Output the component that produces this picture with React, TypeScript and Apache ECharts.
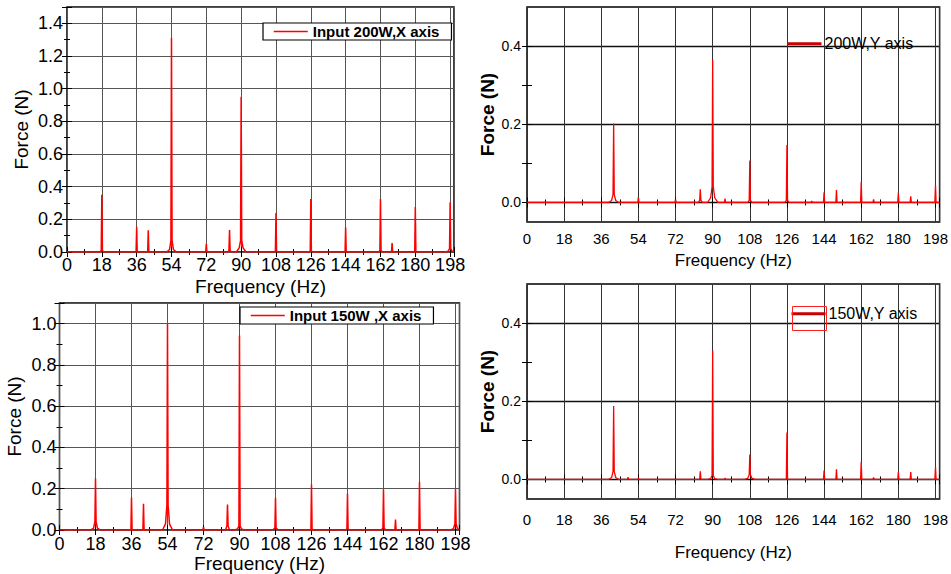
import React, { useEffect, useRef } from "react";
import * as echarts from "echarts";

// ---- data ----
const FREQ_MIN = 0;
const FREQ_MAX = 200;
const FREQ_STEP = 18;

// Panel 1: Input 200W, X axis  (peak frequency, peak force, force at the foot, force on the skirt)
const p1Freq = [18, 36, 42, 54, 72, 84, 90, 108, 126, 144, 162, 168, 180, 198];
const p1Force = [0.35, 0.155, 0.133, 1.31, 0.05, 0.135, 0.95, 0.238, 0.325, 0.15, 0.325, 0.055, 0.275, 0.305];
const p1Foot = [0.01, 0, 0, 0.07, 0, 0.01, 0.07, 0.005, 0.005, 0, 0.01, 0, 0, 0.02];
const p1Skirt = [0, 0, 0, 0.015, 0, 0, 0.025, 0, 0, 0, 0, 0, 0, 0.005];

// Panel 2: 200W, Y axis
const p2Freq = [42, 54, 72, 84, 90, 96, 108, 126, 138, 144, 150, 162, 168, 180, 186, 198];
const p2Force = [0.202, 0.014, 0.008, 0.034, 0.365, 0.01, 0.107, 0.147, 0.004, 0.026, 0.032, 0.053, 0.008, 0.025, 0.016, 0.044];
const p2Foot = [0.02, 0, 0, 0.005, 0.04, 0, 0.005, 0.005, 0, 0, 0, 0, 0, 0, 0, 0];
const p2Skirt = [0.005, 0, 0, 0, 0.012, 0, 0, 0, 0, 0, 0, 0, 0, 0, 0, 0];

// Panel 3: Input 150W, X axis
const p3Freq = [18, 36, 42, 54, 72, 84, 90, 108, 126, 144, 162, 168, 180, 198];
const p3Force = [0.249, 0.157, 0.127, 1.0, 0.015, 0.124, 0.942, 0.156, 0.22, 0.175, 0.196, 0.051, 0.233, 0.197];
const p3Foot = [0.04, 0, 0, 0.12, 0, 0.02, 0.02, 0.01, 0, 0.005, 0.01, 0, 0, 0.03];
const p3Skirt = [0.008, 0, 0, 0.03, 0, 0, 0.005, 0.003, 0, 0, 0, 0, 0, 0.006];

// Panel 4: 150W, Y axis
const p4Freq = [42, 49, 54, 84, 90, 96, 108, 126, 144, 150, 162, 168, 180, 186, 198];
const p4Force = [0.188, 0.006, 0.004, 0.021, 0.33, 0.004, 0.064, 0.12, 0.023, 0.026, 0.045, 0.005, 0.019, 0.019, 0.032];
const p4Foot = [0.02, 0, 0, 0, 0.01, 0, 0.012, 0, 0, 0, 0, 0, 0, 0, 0];
const p4Skirt = [0.005, 0, 0, 0, 0.002, 0, 0.003, 0, 0, 0, 0, 0, 0, 0, 0];

const smallYLabels = [0, 0.2, 0.4];
const smallYTicks = [0, 0.1, 0.2, 0.3, 0.4];

function spectrum(freqs: number[], forces: number[], feet: number[], skirts: number[]) {
  const pts: number[][] = [[FREQ_MIN, 0]];
  freqs.forEach((f, i) => {
    pts.push(
      [f - 2.5, 0],
      [f - 1, skirts[i]],
      [f - 0.3, feet[i]],
      [f, forces[i]],
      [f + 0.3, feet[i]],
      [Math.min(f + 1, FREQ_MAX), skirts[i]],
      [Math.min(f + 2.5, FREQ_MAX), 0]
    );
  });
  pts.push([FREQ_MAX, 0]);
  return pts;
}

const WIDE = "'Liberation Sans', Arial, sans-serif";

type PanelCfg = {
  name: string;
  freqs: number[];
  forces: number[];
  feet: number[];
  skirts: number[];
  grid: { left: number; top: number; width: number; height: number };
  yMin: number;
  yMax: number;
  small: boolean;
  xNameGap: number;
  yNameGap: number;
  xLabelMargin: number;
  yLabelMargin: number;
  legend: any;
};

const panels: PanelCfg[] = [
  {
    name: "Input 200W,X axis",
    freqs: p1Freq, forces: p1Force, feet: p1Foot, skirts: p1Skirt,
    grid: { left: 67, top: 7, width: 387, height: 245 },
    yMin: 0, yMax: 1.5, small: false,
    xNameGap: 25, yNameGap: 36, xLabelMargin: 4, yLabelMargin: 4,
    legend: { left: 263, top: 23 },
  },
  {
    name: "200W,Y axis",
    freqs: p2Freq, forces: p2Force, feet: p2Foot, skirts: p2Skirt,
    grid: { left: 527, top: 7, width: 415, height: 215 },
    yMin: -0.05, yMax: 0.5, small: true,
    xNameGap: 30, yNameGap: 30, xLabelMargin: 9, yLabelMargin: 6,
    legend: { left: 786, top: 35 },
  },
  {
    name: "Input 150W ,X axis",
    freqs: p3Freq, forces: p3Force, feet: p3Foot, skirts: p3Skirt,
    grid: { left: 59.5, top: 303, width: 400, height: 229 },
    yMin: 0, yMax: 1.1, small: false,
    xNameGap: 24, yNameGap: 36, xLabelMargin: 5, yLabelMargin: 3,
    legend: { left: 240, top: 307 },
  },
  {
    name: "150W,Y axis",
    freqs: p4Freq, forces: p4Force, feet: p4Foot, skirts: p4Skirt,
    grid: { left: 527, top: 284, width: 414, height: 215 },
    yMin: -0.05, yMax: 0.5, small: true,
    xNameGap: 45, yNameGap: 30, xLabelMargin: 13, yLabelMargin: 6,
    legend: { left: 790, top: 305 },
  },
];

function buildOption() {
  const grid: any[] = [];
  const xAxis: any[] = [];
  const yAxis: any[] = [];
  const series: any[] = [];
  const legend: any[] = [];

  panels.forEach((p, gi) => {
    grid.push({ ...p.grid, show: true, borderColor: "#000", borderWidth: 1.5, backgroundColor: "#fff", containLabel: false });
    const labelFont = p.small
      ? { fontFamily: WIDE, fontSize: 15, color: "#000" }
      : { fontFamily: WIDE, fontSize: 18, color: "#000" };
    const gridColor = p.small ? "#333" : "#555";
    const tickStyle = { color: "#000", width: 1 };

    const xIndex = xAxis.length;
    xAxis.push({
      gridIndex: gi, type: "value", position: "bottom",
      min: FREQ_MIN, max: FREQ_MAX, interval: FREQ_STEP,
      axisLine: { show: false },
      axisTick: { show: true, inside: true, length: 5, lineStyle: tickStyle },
      minorTick: { show: true, splitNumber: 2, length: 3, lineStyle: tickStyle },
      axisLabel: { ...labelFont, margin: p.xLabelMargin, showMaxLabel: false },
      splitLine: { show: true, lineStyle: { color: gridColor, width: 1 } },
      name: "Frequency (Hz)", nameLocation: "middle", nameGap: p.xNameGap,
      nameTextStyle: p.small
        ? { fontFamily: WIDE, fontSize: 17, color: "#000" }
        : { fontFamily: WIDE, fontSize: 19, color: "#000" },
    });
    xAxis.push({
      gridIndex: gi, type: "value", position: "top",
      min: FREQ_MIN, max: FREQ_MAX, interval: FREQ_STEP,
      axisLine: { show: false },
      axisTick: { show: true, inside: true, length: 5, lineStyle: tickStyle },
      minorTick: { show: true, splitNumber: 2, length: 3, lineStyle: tickStyle },
      axisLabel: { show: false },
      splitLine: { show: false },
    });

    const yIndex = yAxis.length;
    const yName = {
      name: "Force (N)", nameLocation: "middle", nameGap: p.yNameGap,
      nameTextStyle: p.small
        ? { fontFamily: WIDE, fontSize: 19, fontWeight: "bold", color: "#000" }
        : { fontFamily: WIDE, fontSize: 19, color: "#000" },
    };
    if (!p.small) {
      yAxis.push({
        gridIndex: gi, type: "value", position: "left",
        min: p.yMin, max: p.yMax, interval: 0.2,
        axisLine: { show: false },
        axisTick: { show: true, inside: true, length: 5, lineStyle: tickStyle },
        minorTick: { show: true, splitNumber: 2, length: 3, lineStyle: tickStyle },
        axisLabel: { ...labelFont, margin: p.yLabelMargin, showMaxLabel: false, formatter: (v: number) => v.toFixed(1) },
        splitLine: { show: true, lineStyle: { color: gridColor, width: 1 } },
        ...yName,
      });
      yAxis.push({
        gridIndex: gi, type: "value", position: "right",
        min: p.yMin, max: p.yMax, interval: 0.2,
        axisLine: { show: false },
        axisTick: { show: true, inside: true, length: 5, lineStyle: tickStyle },
        minorTick: { show: true, splitNumber: 2, length: 3, lineStyle: tickStyle },
        axisLabel: { show: false },
        splitLine: { show: false },
      });
    } else {
      yAxis.push({
        gridIndex: gi, type: "value", position: "left",
        min: p.yMin, max: p.yMax,
        axisLine: { show: false },
        axisTick: { show: true, inside: true, length: 5, lineStyle: tickStyle, customValues: smallYTicks },
        axisLabel: { fontFamily: WIDE, fontSize: 14, color: "#000", margin: p.yLabelMargin, customValues: smallYLabels, formatter: (v: number) => v.toFixed(1) },
        splitLine: { show: false },
        ...yName,
      });
      yAxis.push({
        gridIndex: gi, type: "value", position: "right",
        min: p.yMin, max: p.yMax,
        axisLine: { show: false },
        axisTick: { show: true, inside: true, length: 5, lineStyle: tickStyle, customValues: smallYTicks },
        axisLabel: { show: false },
        splitLine: { show: false },
      });
      yAxis.push({
        gridIndex: gi, type: "value", position: "left",
        min: p.yMin, max: p.yMax,
        axisLine: { show: false },
        axisTick: { show: false, customValues: smallYLabels },
        axisLabel: { show: false },
        splitLine: { show: true, lineStyle: { color: "#111", width: 1.3 } },
      });
    }

    series.push({
      name: p.name,
      type: "line",
      xAxisIndex: xIndex,
      yAxisIndex: yIndex,
      data: spectrum(p.freqs, p.forces, p.feet, p.skirts),
      symbol: "none",
      z: 5,
      lineStyle: { color: "#ff0000", width: p.small ? 1.3 : 1.5 },
      itemStyle: { color: "#ff0000" },
    });

    legend.push({
      data: [p.name],
      ...p.legend,
      orient: "horizontal",
      itemWidth: 34,
      itemHeight: p.small ? 22 : 12,
      itemGap: 5,
      selectedMode: false,
      backgroundColor: p.small ? "transparent" : "#fff",
      borderColor: p.small ? "transparent" : "#000",
      borderWidth: p.small ? 0 : 1.2,
      borderRadius: 0,
      padding: p.small ? [0, 0, 0, 0] : [1, 12, 1, 10],
      itemStyle: { opacity: 0 },
      lineStyle: p.small ? { color: "#c80000", width: 3 } : { color: "#ff0000", width: 1.5 },
      textStyle: p.small
        ? { fontFamily: WIDE, fontSize: 16, color: "#000", padding: [0, 0, 0, -2] }
        : { fontFamily: WIDE, fontSize: 15, fontWeight: "bold", color: "#000" },
    });
  });

  return {
    animation: false,
    backgroundColor: "#fff",
    grid,
    xAxis,
    yAxis,
    series,
    legend,
    graphic: [
      {
        type: "rect",
        left: 790,
        top: 304,
        shape: { width: 34, height: 24 },
        style: { fill: "none", stroke: "#ff2020", lineWidth: 1 },
        z: 10,
      },
    ],
  };
}

export default function App() {
  const ref = useRef<HTMLDivElement>(null);
  useEffect(() => {
    if (!ref.current) return;
    const chart = echarts.init(ref.current, null, { renderer: "svg" });
    chart.setOption(buildOption() as any);
    return () => chart.dispose();
  }, []);
  return (
    <div
      ref={ref}
      style={{ position: "absolute", left: 0, top: 0, width: 951, height: 574, background: "#fff" }}
    />
  );
}
